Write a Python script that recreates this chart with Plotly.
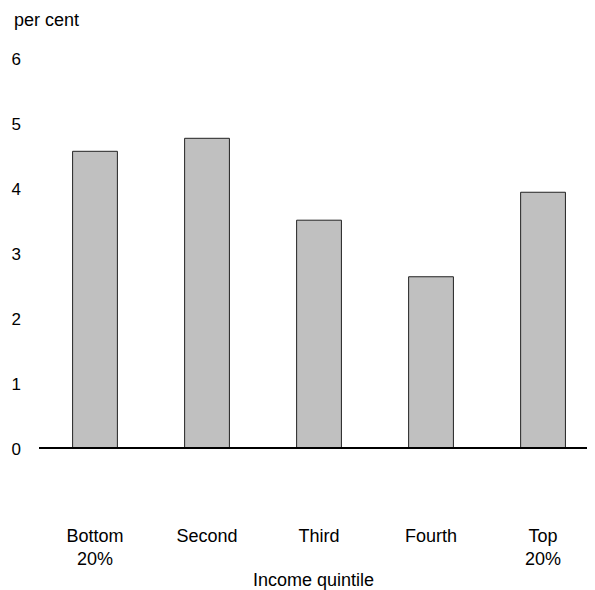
import plotly.graph_objects as go

categories = ["Bottom<br>20%", "Second", "Third", "Fourth", "Top<br>20%"]
values = [4.58, 4.78, 3.52, 2.65, 3.95]
y_ticks = [0, 1, 2, 3, 4, 5, 6]

fig = go.Figure()
fig.add_trace(go.Bar(
    x=list(range(len(categories))),
    y=values,
    width=0.4,
    marker=dict(color="#c0c0c0", line=dict(color="#222222", width=1)),
))

fig.add_shape(type="line", xref="paper", yref="y", x0=0, x1=1, y0=0, y1=0,
              line=dict(color="black", width=4), layer="above")

fig.add_annotation(text="per cent", xref="paper", yref="paper", x=-0.0486, y=1.10,
                   xanchor="left", yanchor="middle", showarrow=False,
                   font=dict(size=18, color="black"))
fig.add_annotation(text="Income quintile", xref="paper", yref="paper", x=0.493, y=-0.336,
                   xanchor="center", yanchor="middle", showarrow=False,
                   font=dict(size=18, color="black"))

fig.update_layout(
    width=587, height=582,
    margin=dict(l=31, r=0, t=51, b=141),
    paper_bgcolor="white", plot_bgcolor="white",
    showlegend=False,
    font=dict(family="Liberation Sans, Arial, sans-serif", size=18, color="black"),
    xaxis=dict(
        range=[-0.5, 4.464],
        tickmode="array",
        tickvals=list(range(len(categories))),
        ticktext=categories,
        showgrid=False, zeroline=False, showline=False, ticks="",
        ticklabelstandoff=74,
        tickfont=dict(size=18),
        automargin=False,
    ),
    yaxis=dict(
        range=[0, 6],
        tickmode="array",
        tickvals=y_ticks,
        ticktext=[str(v) for v in y_ticks],
        showgrid=False, zeroline=False, showline=False, ticks="",
        ticklabelstandoff=17,
        tickfont=dict(size=17),
        automargin=False,
    ),
)

fig.write_html("out.html")
